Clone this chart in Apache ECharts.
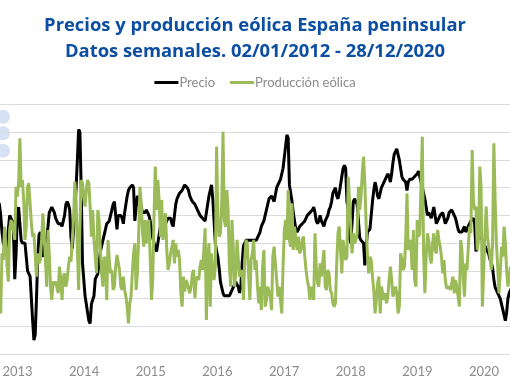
<!DOCTYPE html>
<html>
<head>
<meta charset="utf-8">
<script src="https://cdn.jsdelivr.net/npm/echarts@6/dist/echarts.min.js"></script>
<style>html,body{margin:0;padding:0;background:#fff;}#c{width:510px;height:382px;}</style>
</head>
<body>
<div id="c"></div>
<script>
// First plotted week (weekly data, Mondays)
const firstWeek = [2012, 8, 17];
const titleText = 'Precios y producción eólica España peninsular\nDatos semanales. 02/01/2012 - 28/12/2020';
const seriesNames = ['Precio', 'Producción eólica'];

// Weekly price (€/MWh)
const precio = [
  55,54,50,44,40,39,38,40,45,50,
  49,48,44,27,36,50,53,47,41,40,
  40,40,35,30,29,28,28,12,5,7,
  20,35,43,44,40,35,37,40,42,46,
  51,52,53,53,51,49,48,47,47,47,
  46,46,50,54,55,54,52,42,38,45,
  51,60,70,81,80,60,33,27,21,18,
  15,12,11,18,18,21,27,28,29,33,
  37,39,41,43,45,47,47,48,50,52,
  54,55,50,45,50,50,50,49,47,51,
  54,57,59,60,60,61,60,48,53,57,
  56,55,53,51,51,51,52,51,50,48,
  45,42,40,38,37,40,43,46,46,46,
  46,47,48,49,49,49,47,46,50,54,
  56,57,58,58,59,60,61,61,60,59,
  57,56,55,55,54,53,52,52,50,50,
  49,49,48,51,54,57,59,61,56,48,
  40,37,35,31,26,24,22,21,21,21,
  21,21,21,23,24,25,26,26,24,22,
  25,33,39,40,41,41,41,41,41,41,
  41,41,41,42,43,44,46,47,48,50,
  52,54,56,56,57,56,55,55,60,61,
  62,63,65,67,71,75,79,78,61,58,
  55,51,48,45,44,45,46,46,47,47,
  48,49,50,50,51,51,52,53,51,48,
  47,48,50,48,47,46,48,49,50,52,
  53,55,58,59,60,57,56,58,61,64,
  67,68,67,55,52,42,40,47,55,56,
  56,54,48,42,41,41,40,32,38,44,
  44,45,50,55,59,62,60,57,56,58,
  60,61,62,63,64,65,64,62,65,69,
  72,73,74,72,70,67,64,63,63,62,
  59,62,63,63,63,63,64,64,65,66,
  64,62,60,58,56,53,50,51,50,49,
  51,53,50,47,48,49,50,50,51,49,
  47,47,49,51,51,52,51,50,49,47,
  45,44,44,44,45,46,44,45,46,47,
  48,48,49,47,37,40,43,43,42,41,
  40,39,38,37,36,34,33,31,27,24,
  23,22,21,20,18,16,14,12,15,20,
  22,23,24
];

// Weekly wind production (GWh)
const eolica = [
  630,390,293,726,678,919,798,630,522,895,
  967,943,895,823,1207,1135,1231,1556,1207,1255,
  1111,823,919,1207,1231,1087,943,847,871,871,
  558,726,654,678,823,1015,871,678,486,895,
  726,486,390,522,498,522,522,438,630,534,
  390,558,582,486,534,630,702,666,823,967,
  1243,1111,774,462,919,1255,1231,1135,1063,1183,
  1255,1231,1063,847,1039,823,702,582,1039,967,
  750,582,486,702,678,390,823,678,582,606,
  462,486,630,714,702,606,486,462,558,462,
  414,342,221,366,414,582,726,798,462,582,
  871,1207,1087,871,774,967,798,943,967,702,
  390,534,991,1352,1039,1255,1111,847,1111,823,
  943,1015,750,606,654,726,774,823,654,798,
  702,750,678,438,342,558,450,534,510,474,
  438,486,582,606,402,534,558,534,630,678,
  606,750,907,245,678,798,342,726,606,534,
  630,1496,967,847,871,1087,1604,967,919,1183,
  1039,630,486,967,774,486,582,823,678,558,
  582,606,390,678,823,798,582,390,678,726,
  823,606,678,486,366,486,317,630,750,342,
  390,486,450,414,317,702,774,654,534,414,
  486,486,293,630,895,967,823,1183,823,774,
  1087,750,919,919,750,847,726,750,823,847,
  702,606,534,486,390,486,486,390,871,630,
  510,486,654,558,654,750,486,462,606,582,
  462,438,366,342,366,654,871,919,750,582,
  823,750,678,702,1279,1111,919,726,871,798,
  823,871,1207,1039,1135,1304,1424,1231,943,726,
  582,702,678,558,462,293,390,510,558,293,
  486,486,390,438,366,414,534,630,534,414,
  414,486,438,293,342,726,678,606,630,823,
  1159,750,798,823,606,895,534,486,967,847,
  871,1231,1568,726,438,702,871,823,702,654,
  798,871,750,726,895,823,774,702,582,678,
  534,474,462,486,462,510,558,438,534,486,
  414,342,823,750,558,414,654,606,774,919,
  871,1472,1111,1039,1063,750,823,1352,1207,342,
  582,871,1063,847,774,702,606,798,1520,1111,
  798,630,438,582,774,702,919,798,606,486,
  558,630,486
];

const weeks = precio.map((_, i) => new Date(firstWeek[0], firstWeek[1], firstWeek[2] + 7 * i));
const precioData = weeks.map((d, i) => [d, precio[i]]);
const eolicaData = weeks.map((d, i) => [d, eolica[i]]);

const chart = echarts.init(document.getElementById('c'), null, {renderer: 'canvas'});
const DAY = 86400000;
chart.setOption({
  animation: false,
  backgroundColor: '#ffffff',
  title: {
    text: titleText,
    left: 'center',
    top: 8,
    textStyle: {
      fontFamily: 'Open Sans',
      fontWeight: 'bold',
      fontSize: 18.4,
      lineHeight: 26,
      color: '#0c4fa2'
    }
  },
  legend: {
    top: 71,
    left: 'center',
    icon: 'rect',
    itemWidth: 24,
    itemHeight: 3,
    itemGap: 15,
    textStyle: {fontFamily: 'Lato', fontSize: 13, color: '#8c8c8c', padding: [0, 0, 0, -4]},
    data: seriesNames
  },
  grid: {top: 104.5, bottom: 28, left: -49.3, right: -40.8, outerBoundsMode: 'none', containLabel: false},
  xAxis: {
    type: 'time',
    min: new Date(2012, 0, 1),
    max: new Date(2021, 0, 1),
    splitNumber: 9,
    minInterval: 360 * DAY,
    axisLine: {lineStyle: {color: '#d9d9d9', width: 1}},
    axisTick: {show: false},
    splitLine: {show: false},
    axisLabel: {formatter: '{yyyy}', fontFamily: 'Lato', fontSize: 13, color: '#8c8c8c', margin: 11}
  },
  yAxis: [
    {type: 'value', min: 0, max: 90, interval: 10,
     axisLabel: {show: false}, axisLine: {show: false}, axisTick: {show: false},
     splitLine: {lineStyle: {color: '#dcdcdc', width: 1}}},
    {type: 'value', min: 0, max: 1800, interval: 200,
     axisLabel: {show: false}, axisLine: {show: false}, axisTick: {show: false},
     splitLine: {show: false}}
  ],
  graphic: [
    {type: 'circle', shape: {cx: 3, cy: 116.7, r: 7}, style: {fill: '#d6e2f3'}},
    {type: 'circle', shape: {cx: 3, cy: 133.3, r: 7}, style: {fill: '#d6e2f3'}},
    {type: 'circle', shape: {cx: 3, cy: 150.7, r: 7}, style: {fill: '#d6e2f3'}}
  ],
  series: [
    {name: seriesNames[0], type: 'line', data: precioData, yAxisIndex: 0, symbol: 'none',
     lineStyle: {color: '#000000', width: 3}, itemStyle: {color: '#000000'}, z: 2},
    {name: seriesNames[1], type: 'line', data: eolicaData, yAxisIndex: 1, symbol: 'none',
     lineStyle: {color: '#9bbb59', width: 3}, itemStyle: {color: '#9bbb59'}, z: 3}
  ]
});
</script>
</body>
</html>
